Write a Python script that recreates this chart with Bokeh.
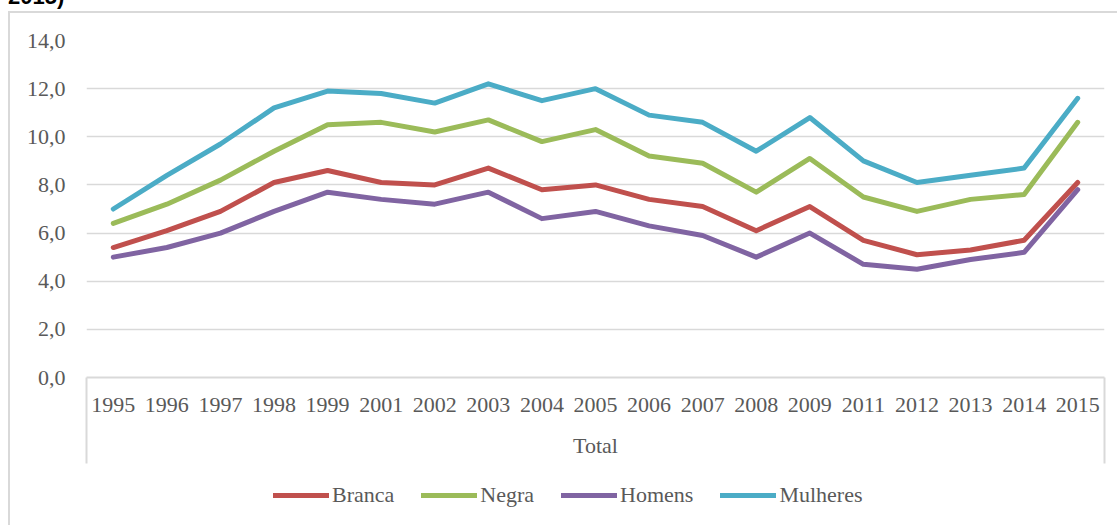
from bokeh.plotting import figure
from bokeh.models import FixedTicker, Legend, LegendItem, Range1d, Div
from bokeh.layouts import column
from bokeh.embed import file_html
from bokeh.resources import INLINE

years = ["1995", "1996", "1997", "1998", "1999", "2001", "2002", "2003", "2004", "2005",
         "2006", "2007", "2008", "2009", "2011", "2012", "2013", "2014", "2015"]
branca = [5.4, 6.1, 6.9, 8.1, 8.6, 8.1, 8.0, 8.7, 7.8, 8.0, 7.4, 7.1, 6.1, 7.1, 5.7, 5.1, 5.3, 5.7, 8.1]
negra = [6.4, 7.2, 8.2, 9.4, 10.5, 10.6, 10.2, 10.7, 9.8, 10.3, 9.2, 8.9, 7.7, 9.1, 7.5, 6.9, 7.4, 7.6, 10.6]
homens = [5.0, 5.4, 6.0, 6.9, 7.7, 7.4, 7.2, 7.7, 6.6, 6.9, 6.3, 5.9, 5.0, 6.0, 4.7, 4.5, 4.9, 5.2, 7.8]
mulheres = [7.0, 8.4, 9.7, 11.2, 11.9, 11.8, 11.4, 12.2, 11.5, 12.0, 10.9, 10.6, 9.4, 10.8, 9.0, 8.1, 8.4, 8.7, 11.6]
series_names = ["Branca", "Negra", "Homens", "Mulheres"]
series_colors = ["#C0504D", "#9BBB59", "#8064A2", "#4BACC6"]
y_ticks = [0, 2, 4, 6, 8, 10, 12, 14]
y_labels = ["0,0", "2,0", "4,0", "6,0", "8,0", "10,0", "12,0", "14,0"]
group_label = "Total"
title_fragment = "2015)"

FONT = "Liberation Serif"
TXT = "#595959"
GRID = "#d9d9d9"
BORDER = f"2px solid {GRID}"

xs = list(range(len(years)))
all_series = [branca, negra, homens, mulheres]

# ---- cut-off title fragment above the chart box
title_div = Div(
    text=f'<span style="position:relative; top:-14px;">{title_fragment}</span>',
    width=200, height=11, margin=(0, 0, 0, 8),
    styles={"overflow": "hidden", "font-family": "Liberation Sans", "font-weight": "bold",
            "font-size": "22px", "line-height": "22px", "color": "#000", "white-space": "nowrap"})

# ---- main chart
p = figure(width=1109, height=459, output_backend="svg", toolbar_location=None,
           x_range=Range1d(-0.5, len(years) - 0.5), y_range=Range1d(0, 14),
           min_border_left=76, min_border_right=15, min_border_top=27, min_border_bottom=95,
           margin=(0, 0, 0, 8))
p.outline_line_color = None
p.styles = {"border-left": BORDER, "border-top": BORDER}

for vals, col in zip(all_series, series_colors):
    p.line(xs, vals, line_width=5, color=col, line_join="round", line_cap="round")

p.yaxis.ticker = FixedTicker(ticks=y_ticks)
p.yaxis.major_label_overrides = {t: l for t, l in zip(y_ticks, y_labels)}
p.yaxis.axis_line_color = None
p.yaxis.major_tick_line_color = None
p.yaxis.minor_tick_line_color = None
p.yaxis.major_tick_out = 0
p.yaxis.major_tick_in = 0
p.yaxis.major_label_standoff = 21
p.yaxis.major_label_text_font = FONT
p.yaxis.major_label_text_font_size = "22px"
p.yaxis.major_label_text_color = TXT

p.ygrid.ticker = FixedTicker(ticks=y_ticks)
p.ygrid.grid_line_color = GRID
p.ygrid.grid_line_width = 1.5
p.xgrid.visible = False

# x axis: minor ticks draw the sides of the category box
p.xaxis.ticker = FixedTicker(ticks=xs, minor_ticks=[-0.5, len(years) - 0.5])
p.xaxis.major_label_overrides = {i: y for i, y in enumerate(years)}
p.xaxis.major_tick_out = 0
p.xaxis.major_tick_in = 0
p.xaxis.major_tick_line_color = None
p.xaxis.minor_tick_out = 86
p.xaxis.minor_tick_in = 0
p.xaxis.minor_tick_line_color = GRID
p.xaxis.minor_tick_line_width = 2
p.xaxis.axis_line_color = GRID
p.xaxis.axis_line_width = 2
p.xaxis.major_label_standoff = -66
p.xaxis.major_label_text_font = FONT
p.xaxis.major_label_text_font_size = "22px"
p.xaxis.major_label_text_color = TXT
p.xaxis.axis_label = group_label
p.xaxis.axis_label_standoff = 18
p.xaxis.axis_label_text_font = FONT
p.xaxis.axis_label_text_font_size = "22px"
p.xaxis.axis_label_text_font_style = "normal"
p.xaxis.axis_label_text_color = TXT

# ---- legend strip (its lines carry the same data but lie outside its view)
lf = figure(width=1109, height=55, output_backend="svg", toolbar_location=None,
            x_axis_type=None, y_axis_type=None, x_range=Range1d(0, 1), y_range=Range1d(0, 1),
            min_border=0, margin=(0, 0, 0, 8))
lf.outline_line_color = None
lf.grid.visible = False
lf.styles = {"border-left": BORDER}
legend_renderers = [lf.line(xs, vals, line_width=5, color=c, line_cap="round")
                    for vals, c in zip(all_series, series_colors)]

legend = Legend(items=[LegendItem(label=n, renderers=[r]) for n, r in zip(series_names, legend_renderers)],
                orientation="horizontal", location=(187, 17))
legend.glyph_width = 56
legend.glyph_height = 20
legend.label_standoff = 3
legend.spacing = 27
legend.padding = 0
legend.margin = 0
legend.border_line_color = None
legend.background_fill_alpha = 0
legend.label_text_font = FONT
legend.label_text_font_size = "22px"
legend.label_text_color = TXT
lf.add_layout(legend, "center")

layout = column(title_div, p, lf, spacing=0)
open("out.html", "w").write(file_html(layout, INLINE))
